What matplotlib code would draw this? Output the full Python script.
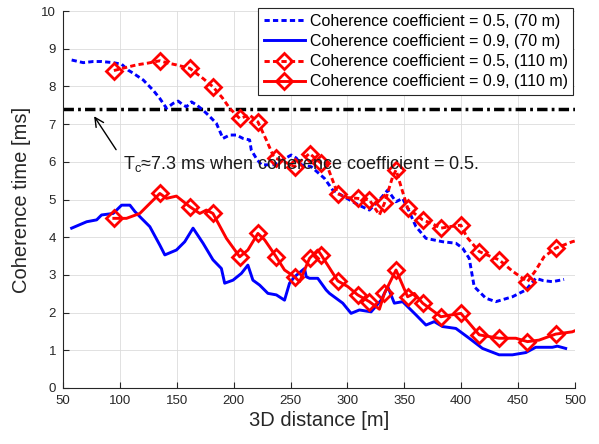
import numpy as np
import matplotlib
matplotlib.use("Agg")
import matplotlib.pyplot as plt

plt.rcParams['font.family'] = ['Liberation Sans', 'DejaVu Sans']
plt.rcParams['mathtext.fontset'] = 'custom'
plt.rcParams['mathtext.rm'] = 'Liberation Sans'
plt.rcParams['mathtext.it'] = 'Liberation Sans'

# ---------------- data ----------------
x_b05 = [57.6, 67.8, 76.6, 83.9, 94.1, 101.5, 107.3, 111.7, 120.5, 129.2, 135.1, 141.0, 146.8,
         151.2, 155.5, 158.5, 162.9, 167.3, 173.1, 179.0, 184.8, 190.6, 196.5, 202.4, 208.2,
         214.0, 215.5, 219.9, 224.3, 236.0, 243.0, 250.6, 255.0, 259.4, 268.2, 279.8, 287.1,
         301.8, 310.0, 319.3, 328.1, 335.4, 342.7, 348.5, 354.0, 360.2, 369.0, 383.6, 395.3,
         401.2, 407.0, 411.4, 421.7, 430.4, 445.0, 456.8, 465.5, 472.0, 480.1, 490.4]
y_b05 = [8.70, 8.63, 8.66, 8.66, 8.63, 8.59, 8.43, 8.35, 8.17, 7.90, 7.68, 7.42, 7.55,
         7.61, 7.51, 7.46, 7.59, 7.51, 7.37, 7.20, 7.02, 6.62, 6.71, 6.71, 6.62,
         6.58, 6.31, 6.09, 5.92, 5.92, 6.05, 6.18, 6.10, 5.92, 5.87, 5.56, 5.25,
         4.99, 4.85, 4.72, 4.99, 5.25, 4.94, 5.03, 4.70, 4.28, 3.97, 3.88, 3.84,
         3.71, 3.44, 2.69, 2.38, 2.29, 2.42, 2.60, 2.91, 2.85, 2.82, 2.88]

x_b09 = [57.6, 70.8, 79.6, 83.9, 94.1, 101.5, 108.8, 113.2, 119.0, 126.3, 135.1, 139.5, 149.7,
         157.0, 164.3, 173.1, 181.8, 189.2, 192.1, 199.4, 206.8, 212.5, 216.9, 222.8, 230.1,
         237.5, 244.7, 249.1, 253.5, 262.3, 263.8, 266.7, 273.9, 281.3, 284.2, 295.9, 303.2,
         310.5, 320.8, 329.6, 335.4, 341.2, 348.5, 360.2, 369.0, 376.3, 383.6, 395.3, 407.0,
         418.7, 433.3, 445.0, 456.8, 465.5, 480.1, 484.5, 491.8]
y_b09 = [4.24, 4.41, 4.46, 4.59, 4.63, 4.85, 4.85, 4.68, 4.50, 4.28, 3.79, 3.53, 3.66,
         3.88, 4.24, 3.84, 3.40, 3.17, 2.78, 2.86, 3.04, 3.26, 2.86, 2.73, 2.51,
         2.47, 2.33, 2.78, 2.95, 3.17, 2.95, 2.91, 2.91, 2.60, 2.51, 2.25, 1.98,
         2.07, 2.02, 2.33, 2.69, 2.25, 2.29, 1.94, 1.67, 1.76, 1.63, 1.58, 1.32,
         1.05, 0.88, 0.88, 0.94, 1.08, 1.08, 1.11, 1.05]

x_r05 = [94.7, 105.0, 114.6, 125.0, 135.1, 142.0, 149.7, 161.4, 173.1, 181.8, 190.0, 196.5,
         205.3, 214.0, 221.3, 228.7, 234.5, 237.4, 246.0, 253.5, 260.0, 266.7, 276.9, 281.3,
         291.5, 300.0, 309.0, 319.3, 328.1, 332.5, 339.7, 342.7, 352.9, 366.1, 375.0, 382.2,
         390.0, 399.7, 405.0, 415.8, 425.0, 433.3, 445.0, 458.2, 465.0, 472.8, 483.0, 497.6, 500.0]
y_r05 = [8.42, 8.50, 8.57, 8.62, 8.68, 8.62, 8.57, 8.48, 8.21, 7.99, 7.70, 7.42,
         7.15, 7.24, 7.06, 6.58, 6.18, 6.09, 5.98, 5.87, 6.05, 6.22, 5.96, 5.96,
         5.15, 5.05, 5.03, 4.99, 4.59, 4.90, 5.60, 5.78, 4.77, 4.46, 4.35, 4.24,
         4.28, 4.32, 4.00, 3.62, 3.50, 3.40, 3.10, 2.82, 3.10, 3.48, 3.71, 3.88, 3.90]

x_r09 = [94.7, 105.8, 117.5, 124.8, 135.1, 141.0, 149.7, 161.4, 170.2, 176.0, 181.8, 193.6,
         205.3, 212.5, 221.3, 227.2, 237.4, 244.7, 253.5, 257.9, 266.7, 273.9, 276.9, 291.5,
         300.3, 309.0, 319.3, 328.1, 332.5, 342.7, 352.9, 358.8, 366.1, 382.2, 399.7, 415.8,
         433.3, 448.0, 458.2, 468.4, 483.0, 497.6, 500.0]
y_r09 = [4.50, 4.50, 4.63, 4.85, 5.16, 5.03, 5.09, 4.81, 4.63, 4.72, 4.63, 3.97,
         3.48, 3.66, 4.10, 3.93, 3.48, 3.13, 2.95, 2.82, 3.44, 3.66, 3.53, 2.84,
         2.69, 2.47, 2.29, 2.09, 2.51, 3.13, 2.42, 2.51, 2.25, 1.89, 1.98, 1.41,
         1.32, 1.32, 1.23, 1.27, 1.43, 1.49, 1.52]

marker_x = [94.7, 135.1, 161.4, 181.8, 205.3, 221.3, 237.4, 253.5, 266.7, 276.9, 291.5, 309.0,
            319.3, 332.5, 342.7, 352.9, 366.1, 382.2, 399.7, 415.8, 433.3, 458.2, 483.0]

labels = ['Coherence coefficient = 0.5, (70 m)',
          'Coherence coefficient = 0.9, (70 m)',
          'Coherence coefficient = 0.5, (110 m)',
          'Coherence coefficient = 0.9, (110 m)']
tc_value = 7.4
annot_text = 'T$_{\\rm c}$\u22487.3 ms when coherence coefficient = 0.5.'
x_ticks = list(range(50, 501, 50))
y_ticks = list(range(0, 11, 1))

# ---------------- plot ----------------
fig = plt.figure(figsize=(5.99, 4.44), dpi=100)
ax = fig.add_axes([63/599, 1-388/444, 512/599, 377/444])

dash = (0, (1.8, 1.1))
lw = 2.1
ax.plot(x_b05, y_b05, color=(0, 0, 1), lw=lw, ls=dash, label=labels[0], zorder=3)
ax.plot(x_b09, y_b09, color=(0, 0, 1), lw=lw, ls='-', label=labels[1], zorder=3)

idx_r05 = [i for i, v in enumerate(x_r05) if v in marker_x]
idx_r09 = [i for i, v in enumerate(x_r09) if v in marker_x]
ax.plot(x_r05, y_r05, color=(1, 0, 0), lw=lw, ls=dash, marker='D', ms=8.5,
        mfc='none', mew=2, markevery=idx_r05, label=labels[2], zorder=4)
ax.plot(x_r09, y_r09, color=(1, 0, 0), lw=lw, ls='-', marker='D', ms=8.5,
        mfc='none', mew=2, markevery=idx_r09, label=labels[3], zorder=4)

ax.axhline(tc_value, color='black', lw=2.5, ls=(0, (3, 1.2, 0.8, 1.2)), zorder=2)

ax.annotate('', xy=(76, 7.27), xytext=(98, 6.26),
            arrowprops=dict(arrowstyle='->', lw=1.0, color='black', mutation_scale=16))
ax.text(103, 5.94, annot_text, fontsize=13, va='center', ha='left', color='#1a1a1a', zorder=5)

ax.set_xlim(50, 500)
ax.set_ylim(0, 10)
ax.set_xticks(x_ticks)
ax.set_yticks(y_ticks)
ax.grid(True, color='#dcdcdc', lw=0.6)
ax.set_axisbelow(True)
for s in ['top', 'right']:
    ax.spines[s].set_visible(False)
for s in ['left', 'bottom']:
    ax.spines[s].set_color('#262626')
    ax.spines[s].set_linewidth(0.8)
ax.tick_params(direction='in', length=4, width=0.8, colors='#262626', labelsize=9.5, pad=5)
ax.set_xlabel('3D distance [m]', fontsize=14.5, color='#262626', labelpad=3)
ax.set_ylabel('Coherence time [ms]', fontsize=14.5, color='#262626', labelpad=7)

leg = ax.legend(loc='upper right', bbox_to_anchor=(0.997, 1.008), borderaxespad=0,
                fontsize=11.5, frameon=True, fancybox=False, framealpha=1,
                edgecolor='#262626', handlelength=2.6, handletextpad=0.3,
                labelspacing=0.33, borderpad=0.35)
leg.get_frame().set_linewidth(0.8)
leg.set_zorder(10)

fig.savefig('out.png', dpi=100)
